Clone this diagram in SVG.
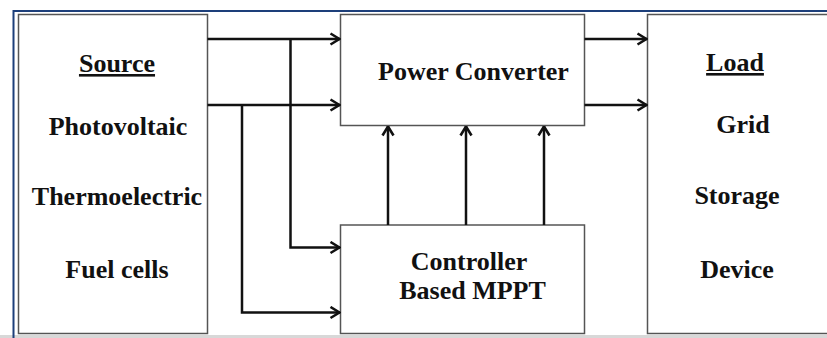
<svg xmlns="http://www.w3.org/2000/svg" width="827" height="338" viewBox="0 0 827 338">
<style>
.box{fill:#fff;stroke:#555;stroke-width:1.5}
.t{font-family:"Liberation Serif","Times New Roman",serif;font-weight:bold;font-size:26px;fill:#111;text-anchor:middle}
.w{fill:none;stroke:#111;stroke-width:2.5}
.frame{fill:none;stroke:#1d3f7a;stroke-width:2}
</style>
<defs>
<marker id="arr" viewBox="0 0 12 14" refX="11.5" refY="7" markerWidth="12" markerHeight="14" markerUnits="userSpaceOnUse" orient="auto">
<path d="M2,1.5 L11,7 L2,12.5" fill="none" stroke="#111" stroke-width="2.6"/>
</marker>
</defs>
<rect x="0" y="0" width="827" height="338" fill="#fff"/>
<rect x="0" y="335" width="827" height="3" fill="#d8d8d8"/>
<path class="frame" d="M13.5,338 V11 H827"/>
<g id="source">
<rect class="box" x="18.5" y="14.5" width="189" height="319"/>
<text class="t" x="117" y="72" text-decoration="underline">Source</text>
<text class="t" x="118" y="135">Photovoltaic</text>
<text class="t" x="117" y="205">Thermoelectric</text>
<text class="t" x="117" y="278">Fuel cells</text>
</g>
<g id="power-converter">
<rect class="box" x="340.5" y="14.5" width="244" height="111"/>
<text class="t" x="473.5" y="80">Power Converter</text>
</g>
<g id="controller">
<rect class="box" x="340.5" y="225" width="244" height="108.5"/>
<text class="t" x="469" y="270">Controller</text>
<text class="t" x="472.5" y="299">Based MPPT</text>
</g>
<g id="load">
<rect class="box" x="647.5" y="14.5" width="182" height="319"/>
<text class="t" x="735" y="71" text-decoration="underline">Load</text>
<text class="t" x="743" y="133">Grid</text>
<text class="t" x="737" y="204">Storage</text>
<text class="t" x="737" y="278">Device</text>
</g>
<g id="connectors">
<path class="w" d="M207.5,39 H340" marker-end="url(#arr)"/>
<path class="w" d="M207.5,105 H340" marker-end="url(#arr)"/>
<path class="w" d="M290.5,39 V247.5 H340" marker-end="url(#arr)"/>
<path class="w" d="M242,105 V312.5 H340" marker-end="url(#arr)"/>
<path class="w" d="M388,225 V126" marker-end="url(#arr)"/>
<path class="w" d="M466,225 V126" marker-end="url(#arr)"/>
<path class="w" d="M544,225 V126" marker-end="url(#arr)"/>
<path class="w" d="M584.5,39 H647" marker-end="url(#arr)"/>
<path class="w" d="M584.5,105 H647" marker-end="url(#arr)"/>
</g>
</svg>
